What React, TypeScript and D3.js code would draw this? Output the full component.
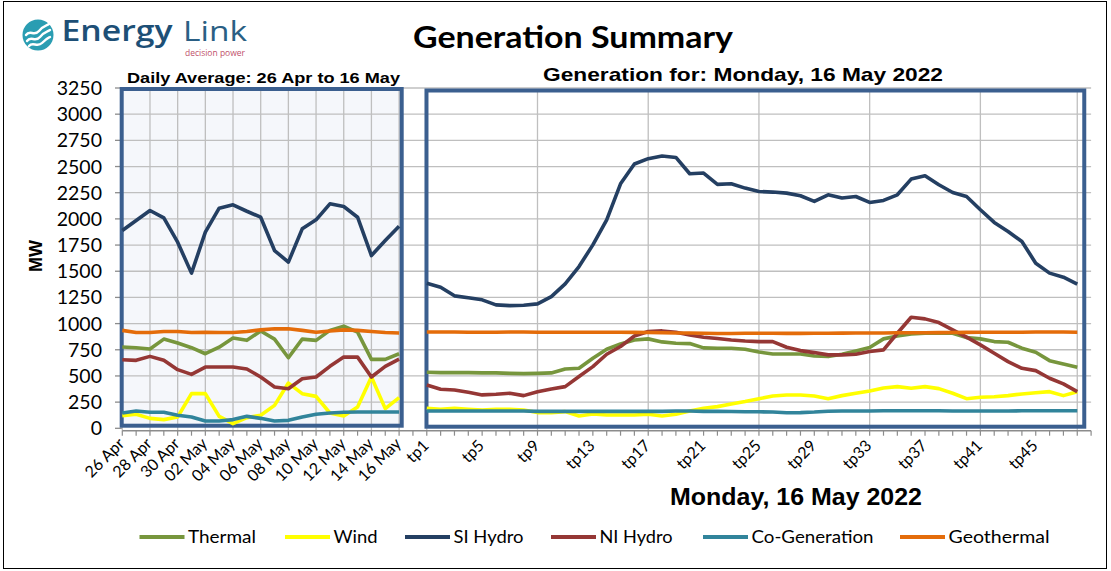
import React from 'react';
import * as d3 from 'd3';

// ---------- data ----------
const days = ["26 Apr","27 Apr","28 Apr","29 Apr","30 Apr","01 May","02 May","03 May","04 May","05 May","06 May","07 May","08 May","09 May","10 May","11 May","12 May","13 May","14 May","15 May","16 May"];
const tps = Array.from({ length: 48 }, (_, i) => `tp${i + 1}`);
const yTicks = [0,250,500,750,1000,1250,1500,1750,2000,2250,2500,2750,3000,3250];

const dailyThermal = [776,770,757,852,814,770,712,775,862,840,929,852,674,852,840,935,976,919,658,658,712];
const dailyWind = [121,134,95,83,108,331,331,114,45,102,125,219,432,331,305,146,118,203,490,188,293];
const dailySIHydro = [1889,1985,2080,2010,1777,1482,1873,2102,2134,2073,2016,1698,1587,1905,1991,2144,2118,2016,1650,1793,1930];
const dailyNIHydro = [655,649,687,649,560,515,585,585,585,566,490,394,378,474,490,592,680,680,490,592,661];
const dailyCoGen = [146,165,153,153,124,108,70,70,83,114,95,70,76,108,134,146,153,156,156,156,156];
const dailyGeo = [935,915,915,925,925,915,918,915,915,925,940,950,950,935,918,930,940,935,925,915,910];

const tpThermal = [535,532,532,532,529,529,525,522,525,529,567,573,669,755,806,844,854,825,812,809,768,765,765,755,728,710,710,710,691,685,707,739,771,854,882,902,908,908,908,866,854,828,822,765,726,646,615,583];
const tpWind = [191,182,191,182,175,182,182,175,150,150,159,118,137,127,127,127,134,118,134,166,191,207,232,255,282,309,318,318,309,283,312,335,357,385,398,382,398,379,335,283,296,302,312,328,340,350,312,350];
const tpSIHydro = [1386,1348,1265,1246,1227,1179,1172,1175,1188,1258,1380,1545,1752,1991,2335,2524,2575,2600,2587,2431,2438,2330,2336,2294,2262,2256,2246,2221,2167,2230,2199,2214,2157,2176,2230,2380,2412,2326,2252,2214,2087,1966,1880,1784,1577,1482,1443,1377];
const tpNIHydro = [414,373,366,344,319,325,335,312,350,376,398,494,589,707,781,882,924,930,918,892,870,857,844,834,828,828,774,742,723,701,701,707,733,749,908,1061,1045,1010,940,870,797,717,637,573,551,478,424,350];
const tpCoGen = [165,165,165,165,165,165,165,165,162,162,162,162,162,162,162,162,162,162,165,165,162,162,160,158,158,155,148,150,155,163,165,165,165,167,167,167,167,167,165,165,165,165,165,167,167,167,167,167];
const tpGeo = [920,920,919,918,918,918,919,919,918,918,918,918,918,918,917,916,915,912,910,910,908,905,905,908,908,908,907,907,908,908,909,910,910,910,912,912,913,914,915,916,917,917,918,918,919,920,919,918];

const seriesNames = ["Thermal","Wind","SI Hydro","NI Hydro","Co-Generation","Geothermal"];
const seriesColors = ["#77963d","#ffff00","#243f62","#953735","#31849b","#e46c0a"];
const dailySeries = [dailyThermal, dailyWind, dailySIHydro, dailyNIHydro, dailyCoGen, dailyGeo];
const tpSeries = [tpThermal, tpWind, tpSIHydro, tpNIHydro, tpCoGen, tpGeo];

// ---------- chart ----------
const W = 1111, H = 571;
const cats = [...days, "__gap", ...tps, "__end"];

export default function App() {
  const x = d3.scalePoint<string>().domain(cats).range([122.3, 1091.1]);
  const y = d3.scaleLinear().domain([0, 3250]).range([428.3, 88]);
  const step = x.step();
  const axisY = 430.7;

  const lineDays = d3.line<number>().x((_, i) => x(days[i]) as number).y(d => y(d));
  const lineTps = d3.line<number>().x((_, i) => x(tps[i]) as number).y(d => y(d));

  const lx0 = (x(days[0]) as number) - 0.6;
  const lx1 = (x(days[days.length - 1]) as number) + 2.6;
  const rx0 = (x(tps[0]) as number) - 0.3;
  const rx1 = (x(tps[tps.length - 1]) as number) + 7;
  const fTop = y(3250) + 1;
  const fBot = y(0) - 2.6;

  const dayGrid = days.filter((_, i) => i % 2 === 0);
  const tpGrid = tps.filter((_, i) => i % 8 === 0).concat([tps[47]]);
  const dayLabels = days.filter((_, i) => i % 2 === 0);
  const tpLabels = tps.filter((_, i) => i % 4 === 0);

  const legendX = [139.5, 285, 405, 551, 703, 900];
  const legendTextW = [68, 44, 70, 73, 122, 101];

  const xFont = "Lato, 'Open Sans', sans-serif";

  return (
    <svg width={W} height={H} style={{ position: 'absolute', left: 0, top: 0, background: '#fff' }}>
      <rect x={0} y={0} width={W} height={H} fill="#fff" />
      <rect x={3.5} y={1.5} width={1103} height={567} fill="none" stroke="#000" strokeWidth={1} />

      {/* logo */}
      <g>
        <circle cx={38} cy={35} r={15.5} fill="#2a9db2" />
        <g fill="none" stroke="#fff" strokeWidth={2.4} strokeLinecap="round">
          <path d="M27,41 C31,35 35,43 40,37 S47,32 50,30" />
          <path d="M26,35 C30,29 34,37 39,31 S46,26 49,24" />
          <path d="M29,46 C33,41 37,48 42,43 S48,38 50,37" />
        </g>
        <text x={61.5} y={41} fontFamily="'Open Sans', sans-serif" fontWeight={600} fontSize={28} fill="#1d4f76" textLength={111} lengthAdjust="spacingAndGlyphs">Energy</text>
        <text x={183} y={41} fontFamily="'Open Sans', sans-serif" fontWeight={400} fontSize={28} fill="#2a5f84" textLength={64} lengthAdjust="spacingAndGlyphs">Link</text>
        <text x={185} y={56} fontFamily="'Open Sans', sans-serif" fontSize={8.5} fill="#c0506a" textLength={60} lengthAdjust="spacingAndGlyphs">decision power</text>
      </g>

      {/* titles */}
      <text x={413} y={48} fontFamily={xFont} fontWeight={700} fontSize={31} fill="#000" textLength={320} lengthAdjust="spacingAndGlyphs">Generation Summary</text>
      <text x={127} y={83} fontFamily="'Liberation Sans', Arial, sans-serif" fontWeight={700} fontSize={15.5} fill="#000" textLength={273} lengthAdjust="spacingAndGlyphs">Daily Average: 26 Apr to 16 May</text>
      <text x={543} y={81} fontFamily="'Liberation Sans', Arial, sans-serif" fontWeight={700} fontSize={19} fill="#000" textLength={400} lengthAdjust="spacingAndGlyphs">Generation for: Monday, 16 May 2022</text>

      {/* left panel background */}
      <rect x={lx0} y={fTop} width={lx1 - lx0} height={fBot - fTop} fill="#f5f7fb" />

      {/* horizontal grid + y ticks */}
      {yTicks.map(t => (
        <g key={t}>
          {t > 0 && <line x1={x(days[0])} x2={x("__end")} y1={y(t)} y2={y(t)} stroke="#bfbfbf" strokeWidth={1.3} />}
          <line x1={115} x2={122.3} y1={y(t)} y2={y(t)} stroke="#8c8c8c" strokeWidth={1.3} />
          <text x={102} y={y(t)} dy="0.36em" textAnchor="end" fontFamily={xFont} fontSize={19.5} fill="#000">{t}</text>
        </g>
      ))}

      {/* vertical grid */}
      {dayGrid.map(d => (
        <line key={d} x1={x(d)} x2={x(d)} y1={fTop} y2={axisY} stroke="#bfbfbf" strokeWidth={1.3} />
      ))}
      {tpGrid.map(d => (
        <line key={d} x1={x(d)} x2={x(d)} y1={fTop} y2={axisY} stroke="#bfbfbf" strokeWidth={1.3} />
      ))}

      {/* x axis */}
      <line x1={x(days[0])} x2={x("__end")} y1={axisY} y2={axisY} stroke="#8c8c8c" strokeWidth={1.5} />
      {cats.map(c => (
        <line key={c} x1={x(c)} x2={x(c)} y1={axisY} y2={axisY + 5} stroke="#8c8c8c" strokeWidth={1.2} />
      ))}
      {dayLabels.map(d => (
        <text key={d} transform={`translate(${(x(d) as number) + 3},${axisY + 14}) rotate(-45)`} textAnchor="end" fontFamily={xFont} fontSize={16} fill="#000">{d}</text>
      ))}
      {tpLabels.map(d => (
        <text key={d} transform={`translate(${(x(d) as number) + 3},${axisY + 16}) rotate(-45)`} textAnchor="end" fontFamily={xFont} fontSize={16} fill="#000">{d}</text>
      ))}

      {/* frames */}
      <rect x={lx0} y={fTop} width={lx1 - lx0} height={fBot - fTop} fill="none" stroke="#3b5f8f" strokeWidth={4} />
      <rect x={rx0} y={fTop + 1.5} width={rx1 - rx0} height={fBot - fTop - 0.5} fill="none" stroke="#3b5f8f" strokeWidth={4} />

      {/* series */}
      {dailySeries.map((s, k) => (
        <path key={'d' + k} d={lineDays(s) as string} fill="none" stroke={seriesColors[k]} strokeWidth={3.6} strokeLinejoin="round" />
      ))}
      {tpSeries.map((s, k) => (
        <path key={'t' + k} d={lineTps(s) as string} fill="none" stroke={seriesColors[k]} strokeWidth={3.6} strokeLinejoin="round" />
      ))}

      {/* y title */}
      <text transform="translate(42,256) rotate(-90)" textAnchor="middle" fontFamily="'Liberation Sans', Arial, sans-serif" fontWeight={700} fontSize={18} fill="#000">MW</text>

      {/* bottom title */}
      <text x={670} y={505} fontFamily="'Liberation Sans', Arial, sans-serif" fontWeight={700} fontSize={23} fill="#000" textLength={252} lengthAdjust="spacingAndGlyphs">Monday, 16 May 2022</text>

      {/* legend */}
      {seriesNames.map((n, k) => (
        <g key={n}>
          <line x1={legendX[k]} x2={legendX[k] + 45} y1={537} y2={537} stroke={seriesColors[k]} strokeWidth={4} />
          <text x={legendX[k] + 48.5} y={537} dy="0.36em" fontFamily={xFont} fontSize={18} fill="#000" textLength={legendTextW[k]} lengthAdjust="spacingAndGlyphs">{n}</text>
        </g>
      ))}
    </svg>
  );
}
